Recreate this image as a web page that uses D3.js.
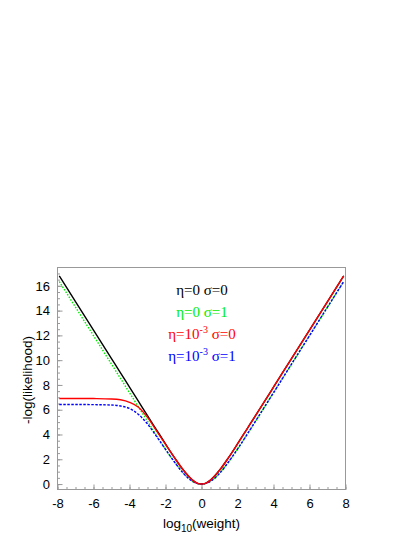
<!DOCTYPE html>
<html>
<head>
    <meta charset="utf-8" />
    <title> likelihood </title>
    <script src="https://cdnjs.cloudflare.com/ajax/libs/d3/7.8.5/d3.min.js"></script>
    <style>
        body { margin: 0px; background: #fff; }
        .axis path { display: none; }
        .axis line { stroke: #999; }
        .axis text { font-family: "Liberation Sans", Arial, sans-serif; font-size: 13px; fill: #000; }
    </style>
</head>
<body>

<svg id="chart" width="415" height="537"></svg>

<script>

    // log10(weight) sample points
    var xs = [-7.9, -7, -6, -5, -4.5, -4, -3.5, -3, -2.5, -2, -1.5, -1, -0.5, -0.25, 0, 0.25, 0.5, 1, 1.5, 2, 2.5, 3, 4, 5, 6, 7, 7.9];

    // eta=0 sigma=0
    var black = [16.80, 14.73, 12.43, 10.13, 8.98, 7.82, 6.67, 5.52, 4.38, 3.24, 2.13, 1.11, 0.32, 0.08, 0, 0.08, 0.32, 1.11, 2.13, 3.24, 4.38, 5.52, 7.82, 10.13, 12.43, 14.73, 16.80];
    // eta=0 sigma=1
    var green = [16.35, 14.28, 11.98, 9.68, 8.53, 7.37, 6.22, 5.07, 3.93, 2.82, 1.78, 0.86, 0.22, 0.05, 0, 0.05, 0.22, 0.86, 1.78, 2.82, 3.93, 5.07, 7.37, 9.68, 11.98, 14.28, 16.35];
    // eta=1e-3 sigma=0
    var red = [6.91, 6.91, 6.90, 6.87, 6.80, 6.60, 6.20, 5.38, 4.30, 3.21, 2.13, 1.11, 0.32, 0.08, 0, 0.08, 0.32, 1.11, 2.13, 3.24, 4.38, 5.52, 7.82, 10.13, 12.43, 14.73, 16.80];
    // eta=1e-3 sigma=1
    var blue = [6.42, 6.42, 6.41, 6.38, 6.30, 6.10, 5.62, 4.85, 3.85, 2.80, 1.78, 0.86, 0.22, 0.05, 0, 0.05, 0.22, 0.86, 1.78, 2.82, 3.93, 5.07, 7.37, 9.68, 11.98, 14.28, 16.35];

    var xMajor = [-8, -6, -4, -2, 0, 2, 4, 6, 8];
    var yMajor = [0, 2, 4, 6, 8, 10, 12, 14, 16];

    var curves = [
        {vals: black, color: '#000000', dash: null},
        {vals: green, color: '#00ee00', dash: '1.5,1.5'},
        {vals: blue,  color: '#0000ff', dash: '2.5,1.5'},
        {vals: red,   color: '#ff0000', dash: null}
    ];

    var legend = [
        {eta: '0', sigma: '0', color: '#000000'},
        {eta: '0', sigma: '1', color: '#00ee00'},
        {eta: '10', sup: '-3', sigma: '0', color: '#ff0000'},
        {eta: '10', sup: '-3', sigma: '1', color: '#0000ff'}
    ];

    function main() {

        var svg = d3.select('#chart');

        var left = 57.5, right = 345.5, top = 267.5, bottom = 489.5;

        var x = d3.scaleLinear().domain([-8, 8]).range([left, right]);
        var y = d3.scaleLinear().domain([-0.44, 17.48]).range([bottom, top]);

        var xMinor = d3.range(-8, 8.01, 0.5);
        var yMinor = d3.range(-0, 17.01, 0.5);

        // plain hyphen for negative labels
        var fmt = function(d) { return String(d); };

        //minor ticks
        svg.append('g').attr('class', 'axis')
            .attr('transform', 'translate(0,' + bottom + ')')
            .call(d3.axisBottom(x).tickValues(xMinor).tickSize(-2.5).tickFormat(''));
        svg.append('g').attr('class', 'axis')
            .attr('transform', 'translate(' + left + ',0)')
            .call(d3.axisLeft(y).tickValues(yMinor).tickSize(-2.5).tickFormat(''));

        //major ticks and labels
        svg.append('g').attr('class', 'axis')
            .attr('transform', 'translate(0,' + bottom + ')')
            .call(d3.axisBottom(x).tickValues(xMajor).tickSize(-5).tickPadding(9).tickFormat(fmt));
        svg.append('g').attr('class', 'axis')
            .attr('transform', 'translate(' + left + ',0)')
            .call(d3.axisLeft(y).tickValues(yMajor).tickSize(-5).tickPadding(7.5).tickFormat(fmt));

        //frame
        svg.append('rect')
            .attr('x', left).attr('y', top)
            .attr('width', right - left).attr('height', bottom - top)
            .style('fill', 'none').style('stroke', '#999');

        var line = d3.line()
            .x(function(d) { return x(d[0]); })
            .y(function(d) { return y(d[1]); })
            .curve(d3.curveMonotoneX);

        curves.forEach(function(c) {
            svg.append('path')
                .datum(xs.map(function(v, i) { return [v, c.vals[i]]; }))
                .attr('d', line)
                .style('fill', 'none')
                .style('stroke', c.color)
                .style('stroke-width', 1.4)
                .style('stroke-dasharray', c.dash);
        });

        //legend
        var lg = svg.append('g')
            .style('font-family', '"Liberation Serif", "Times New Roman", serif')
            .style('font-size', '15px');

        legend.forEach(function(l, i) {
            var t = lg.append('text')
                .attr('x', 202)
                .attr('y', 295 + i * 22)
                .attr('text-anchor', 'middle')
                .style('fill', l.color);
            t.append('tspan').text('\u03b7=' + l.eta);
            if (l.sup) {
                t.append('tspan').attr('dy', -6).style('font-size', '10px').text(l.sup);
                t.append('tspan').attr('dy', 6).text('\u00a0\u03c3=' + l.sigma);
            } else {
                t.append('tspan').text(' \u03c3=' + l.sigma);
            }
        });

        //axis titles
        var xt = svg.append('text')
            .attr('x', (left + right) / 2)
            .attr('y', 528)
            .attr('text-anchor', 'middle')
            .style('font-family', '"Liberation Sans", Arial, sans-serif')
            .style('font-size', '13.5px');
        xt.append('tspan').text('log');
        xt.append('tspan').attr('dy', 4).style('font-size', '10px').text('10');
        xt.append('tspan').attr('dy', -4).text('(weight)');

        svg.append('text')
            .attr('transform', 'translate(32,380) rotate(-90)')
            .attr('text-anchor', 'middle')
            .style('font-family', '"Liberation Sans", Arial, sans-serif')
            .style('font-size', '13.5px')
            .text('-log(likelihood)');
    }

    main();

</script>

</body>
</html>
